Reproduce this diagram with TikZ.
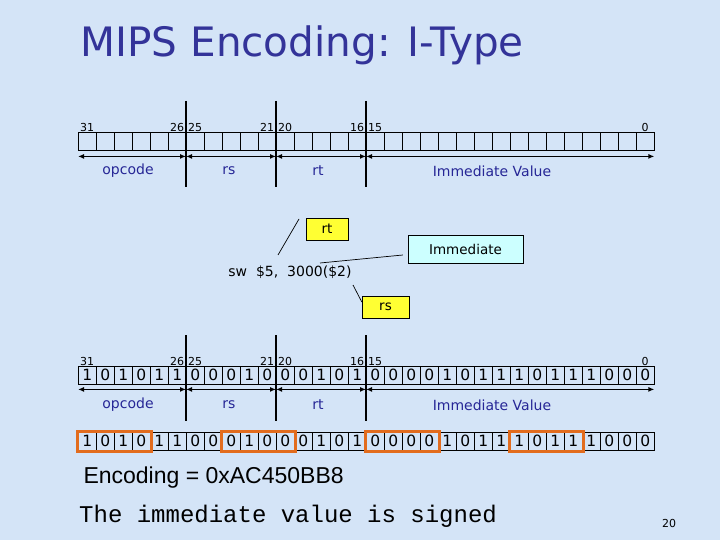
\documentclass[tikz,border=0pt]{standalone}
\usepackage{fontspec}
\setmainfont{DejaVu Sans}
\newfontfamily\plainsans{Liberation Sans}
\newfontfamily\typew{Liberation Mono}
\usepackage{tikz}
\usetikzlibrary{arrows.meta,positioning,fit}
\definecolor{slidebg}{RGB}{212,228,247}
\definecolor{titleblue}{RGB}{51,51,153}
\definecolor{fieldblue}{RGB}{38,38,150}
\definecolor{noteyellow}{RGB}{255,255,51}
\definecolor{notecyan}{RGB}{204,255,255}
\definecolor{grouporange}{RGB}{226,108,30}
\newcommand{\fs}[1]{\fontsize{#1}{#1}\selectfont}
\newcommand{\bitsval}{1,0,1,0,1,1,0,0,0,1,0,0,0,1,0,1,0,0,0,0,1,0,1,1,1,0,1,1,1,0,0,0}

\begin{document}
\begin{tikzpicture}[
  x=1pt, y=-1pt,
  cell/.style={draw, minimum width=18pt, minimum height=18pt, inner sep=0pt, anchor=north west, font=\fs{15.5}},
  bitno/.style={anchor=south, inner sep=0.5pt, font=\fs{11}},
  fld/.style={text=fieldblue, font=\fs{14}},
  sep/.style={line width=2.6pt},
  dim/.style={{Latex[length=6pt,width=5pt]}-{Latex[length=6pt,width=5pt]}, line width=1.5pt},
  note/.style={draw, inner sep=0pt, font=\fs{13.5}},
  lead/.style={line width=0.7pt},
  grp/.style={draw=grouporange, line width=2.6pt, inner sep=0.8pt}
]
\fill[slidebg] (0,0) rectangle (720,540);
\useasboundingbox (0,0) rectangle (720,540);

\node[anchor=west, text=titleblue, font=\fs{40.5}] (title) at (77,45) {MIPS Encoding: I-Type};

% format
\foreach \i in {0,...,31} \node[cell] (t\i) at (78+18*\i,132) {};
\foreach \c/\n in {0/31,5/26,6/25,10/21,11/20,15/16,16/15,31/0} \node[bitno] (tn\n) at (t\c.north) {\n};
\foreach \c in {6,11,16} \draw[sep] ([yshift=31pt]t\c.north west) -- ([yshift=-37pt]t\c.south west);
\draw[dim] ([yshift=-6pt]t0.south west) -- ([yshift=-6pt]t6.south west);
\draw[dim] ([yshift=-6pt]t6.south west) -- ([yshift=-6pt]t11.south west);
\draw[dim] ([yshift=-6pt]t11.south west) -- ([yshift=-6pt]t16.south west);
\draw[dim] ([yshift=-6pt]t16.south west) -- ([yshift=-6pt]t31.south east);
\node[fld] (topop) at (128,171) {opcode};
\node[fld] (toprs) at (229,171) {rs};
\node[fld] (toprt) at (318,171) {rt};
\node[fld] (topimm) at (492,171) {Immediate Value};

% example instruction
\node[font=\fs{14}] (instr) at (290,272) {sw\ \ \$5,\ \ 3000(\$2)};
\node[note, fill=noteyellow, minimum width=42pt, minimum height=22pt] (rtbox) at (327,229) {rt};
\node[note, fill=notecyan, minimum width=115pt, minimum height=28pt] (immbox) at (465.5,249) {Immediate};
\node[note, fill=noteyellow, minimum width=47pt, minimum height=22pt] (rsbox) at (385.5,307) {rs};
\coordinate (rttip) at (299,219);
\coordinate (rtfoot) at (278,255);
\coordinate (immfoot) at (320,263);
\coordinate (rstip) at (353,285);
\draw[lead] (rttip) -- (rtfoot);
\draw[lead] ([xshift=-5pt,yshift=-6pt]immbox.west) -- (immfoot);
\draw[lead] (rstip) -- ([yshift=5pt]rsbox.west);

% encoded
\foreach \b [count=\i from 0] in \bitsval \node[cell] (m\i) at (78+18*\i,366) {\b};
\foreach \c/\n in {0/31,5/26,6/25,10/21,11/20,15/16,16/15,31/0} \node[bitno] (mn\n) at (m\c.north) {\n};
\foreach \c in {6,11,16} \draw[sep] ([yshift=31pt]m\c.north west) -- ([yshift=-37pt]m\c.south west);
\draw[dim] ([yshift=-5pt]m0.south west) -- ([yshift=-5pt]m6.south west);
\draw[dim] ([yshift=-5pt]m6.south west) -- ([yshift=-5pt]m11.south west);
\draw[dim] ([yshift=-5pt]m11.south west) -- ([yshift=-5pt]m16.south west);
\draw[dim] ([yshift=-5pt]m16.south west) -- ([yshift=-5pt]m31.south east);
\node[fld] (botop) at (128,405) {opcode};
\node[fld] (botrs) at (229,405) {rs};
\node[fld] (botrt) at (318,405) {rt};
\node[fld] (botimm) at (492,405) {Immediate Value};

% nibbles
\foreach \b [count=\i from 0] in \bitsval \node[cell] (e\i) at (78+18*\i,432) {\b};
\node[grp, fit=(e0)(e3)] (g1) {};
\node[grp, fit=(e8)(e11)] (g2) {};
\node[grp, fit=(e16)(e19)] (g3) {};
\node[grp, fit=(e24)(e27)] (g4) {};

\node[anchor=west, font=\plainsans\fs{23}] (enc) at (80,478) {Encoding = 0xAC450BB8};
\node[anchor=west, inner sep=0pt, font=\typew\fs{24}] (signed) at (79,516) {The immediate value is signed};
\node[font=\fs{11}] (pageno) at (669,523) {20};
\end{tikzpicture}
\end{document}
